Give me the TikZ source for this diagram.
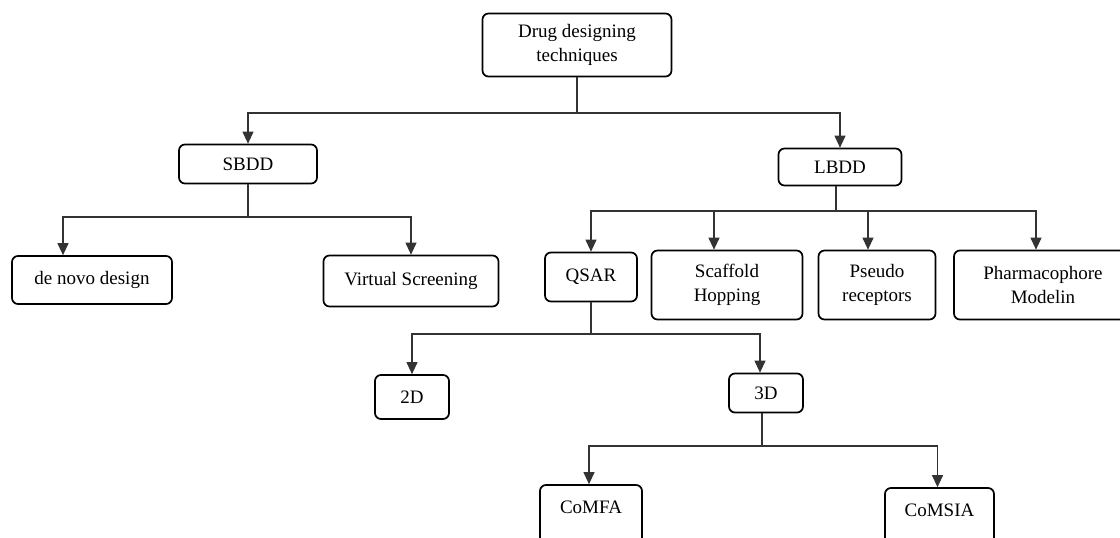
\documentclass[tikz,border=0pt]{standalone}
\usepackage{fontspec}
\setmainfont{Liberation Serif}
\usepackage{tikz}
\usetikzlibrary{positioning, calc, arrows.meta}

\tikzset{
  box/.style={draw, line width=1.7pt, rounded corners=6pt, align=center,
    font=\fontsize{19}{24}\selectfont, inner sep=2pt},
  cutbox/.style={box, text depth=16pt},
  link/.style={draw=black!80, line width=1.1pt},
  arr/.style={link, -{Triangle[width=11pt,length=12pt]}}
}

\begin{document}
\begin{tikzpicture}[x=1pt, y=-1pt]
    \useasboundingbox (0,0) rectangle (1120,538);
    \clip (0,0) rectangle (1120,538);
    % Drug designing tree
    \node[box, minimum width=189pt, minimum height=63pt] (top) at (577,45) {Drug designing\\techniques};
    \node[box, minimum width=138pt, minimum height=39pt] (sbdd) at (248,164) {SBDD};
    \node[box, minimum width=123pt, minimum height=37pt] (lbdd) at (840,167) {LBDD};

    \node[box, minimum width=160pt, minimum height=48pt] (denovo) at (92,280) {de novo design};
    \node[box, minimum width=175pt, minimum height=51pt] (virtual) at (411,281) {Virtual Screening};

    \node[box, minimum width=92pt, minimum height=49pt] (qsar) at (591,277) {QSAR};
    \node[box, minimum width=151pt, minimum height=69pt] (scaffold) at (727,285) {Scaffold\\Hopping};
    \node[box, minimum width=117pt, minimum height=69pt] (pseudo) at (877,285) {Pseudo\\receptors};
    \node[box, minimum width=178pt, minimum height=69pt] (pharma) at (1043,285) {Pharmacophore\\Modelin};

    \node[box, minimum width=74pt, minimum height=44pt] (twod) at (412,397) {2D};
    \node[box, minimum width=74pt, minimum height=39pt] (threed) at (766,393) {3D};

    \node[cutbox, minimum width=102pt, minimum height=60pt] (comfa) at (591,515) {CoMFA};
    \node[cutbox, minimum width=109pt, minimum height=60pt] (comsia) at (939.5,518) {CoMSIA};

    % branches
    \draw[link] (top.south) -- ($(top.south |- 0,113)$) coordinate (j0);
    \draw[arr] (j0) -| (sbdd.north);
    \draw[arr] (j0) -| (lbdd.north);

    \draw[link] (sbdd.south) -- ($(sbdd.south |- 0,217)$) coordinate (j1);
    \draw[arr] (j1) -| ([xshift=-29pt]denovo.north);
    \draw[arr] (j1) -| (virtual.north);

    \draw[link] ([xshift=-4pt]lbdd.south) -- ($([xshift=-4pt]lbdd.south |- 0,211)$) coordinate (j2);
    \draw[arr] (j2) -| (qsar.north);
    \draw[arr] (j2) -| ([xshift=-13pt]scaffold.north);
    \draw[arr] (j2) -| ([xshift=-9pt]pseudo.north);
    \draw[arr] (j2) -| ([xshift=-7pt]pharma.north);

    \draw[link] (qsar.south) -- ($(qsar.south |- 0,334)$) coordinate (j3);
    \draw[arr] (j3) -| (twod.north);
    \draw[arr] (j3) -| ([xshift=-6pt]threed.north);

    \draw[link] ([xshift=-4pt]threed.south) -- ($([xshift=-4pt]threed.south |- 0,446)$) coordinate (j4);
    \draw[arr] (j4) -| ([xshift=-2pt]comfa.north);
    \draw[arr] (j4) -| ([xshift=-2pt]comsia.north);
\end{tikzpicture}
\end{document}
